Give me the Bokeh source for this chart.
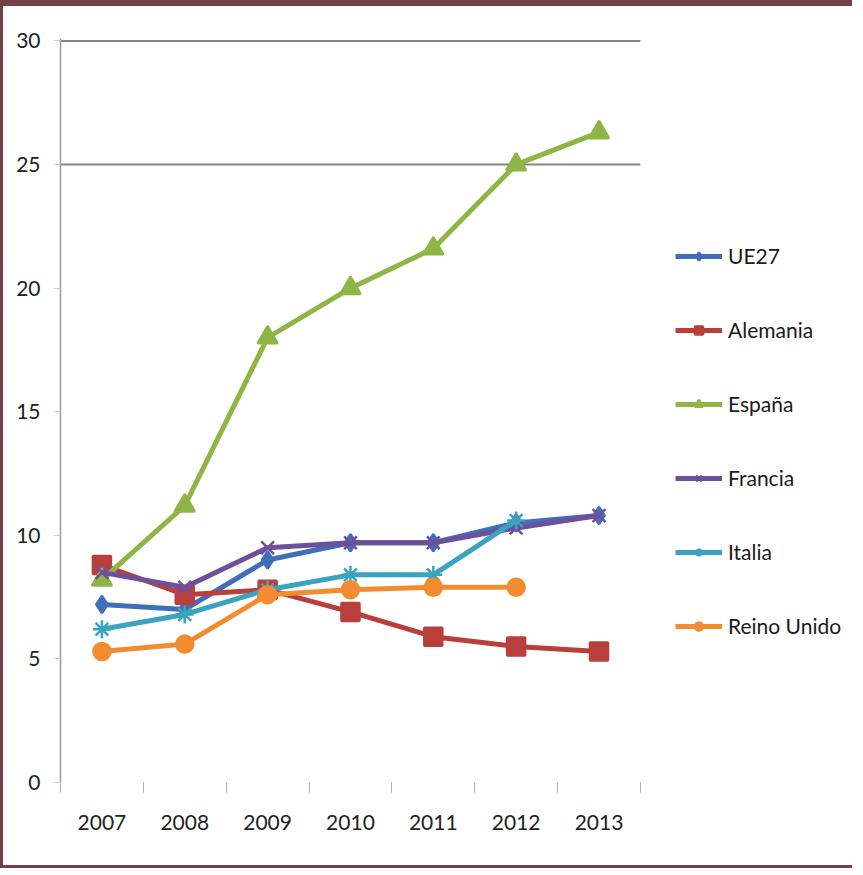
import math
from bokeh.plotting import figure
from bokeh.models import Legend, LegendItem, FixedTicker
from bokeh.embed import file_html
from bokeh.resources import INLINE

nan = float("nan")

years = [2007, 2008, 2009, 2010, 2011, 2012, 2013]
ue27 = [7.2, 7.0, 9.0, 9.7, 9.7, 10.5, 10.8]
alemania = [8.8, 7.6, 7.8, 6.9, 5.9, 5.5, 5.3]
espana = [8.2, 11.2, 18.0, 20.0, 21.6, 25.0, 26.3]
francia = [8.5, 7.9, 9.5, 9.7, 9.7, 10.3, 10.8]
italia = [6.2, 6.8, 7.8, 8.4, 8.4, 10.6, nan]
reino_unido = [5.3, 5.6, 7.6, 7.8, 7.9, 7.9, nan]

series_names = ["UE27", "Alemania", "España", "Francia", "Italia", "Reino Unido"]
series_values = [ue27, alemania, espana, francia, italia, reino_unido]
y_ticks = [0, 5, 10, 15, 20, 25, 30]
grid_levels = [25, 30]

colors = ["#3f6fb8", "#b93f3c", "#8fb545", "#6d4f9c", "#3aa3c0", "#f28c30"]
markers = ["diamond", "square", "triangle", "x", "asterisk", "circle"]
sizes = [17, 18, 20, 18, 18, 17]

FONT = "Lato"

x_start = years[0] - 0.5
x_end_plot = years[-1] + 0.5

p = figure(frame_width=792, frame_height=744, x_range=(x_start, 2016.06), y_range=(0, 30.1),
           output_backend="svg", toolbar_location=None,
           min_border_left=57, min_border_top=32, min_border_bottom=83,
           min_border_right=0)
p.outline_line_color = None
p.styles = {"border-left": "3px solid #74404a",
            "border-top": "6px solid #74404a",
            "border-bottom": "3px solid #74404a"}

# horizontal gridlines (only the two visible ones), limited to the plot part
p.segment(x0=[x_start] * len(grid_levels), x1=[x_end_plot] * len(grid_levels),
          y0=grid_levels, y1=grid_levels, line_color="#858585", line_width=2)
p.xgrid.grid_line_color = None
p.ygrid.grid_line_color = None

# y axis
p.yaxis.ticker = FixedTicker(ticks=y_ticks)
p.yaxis.major_tick_out = 6
p.yaxis.major_tick_in = 0
p.yaxis.minor_tick_out = 0
p.yaxis.minor_tick_in = 0
p.yaxis.major_tick_line_color = "#c8c8c8"
p.yaxis.axis_line_color = "#9a9a9a"
p.yaxis.axis_line_width = 1.5
p.yaxis.major_label_text_font = FONT
p.yaxis.major_label_text_font_size = "21px"
p.yaxis.major_label_text_color = "#222222"
p.yaxis.major_label_standoff = 14

# x axis
p.xaxis.ticker = FixedTicker(ticks=years,
                             minor_ticks=[y - 0.5 for y in years] + [years[-1] + 0.5])
p.xaxis.major_tick_out = 0
p.xaxis.major_tick_in = 0
p.xaxis.minor_tick_out = 10
p.xaxis.minor_tick_in = 0
p.xaxis.minor_tick_line_color = "#b0b0b0"
p.xaxis.axis_line_color = None
p.xaxis.major_label_text_font = FONT
p.xaxis.major_label_text_font_size = "21px"
p.xaxis.major_label_text_color = "#222222"
p.xaxis.major_label_standoff = 22

items = []
for name, vals, col, mk, sz in zip(series_names, series_values, colors, markers, sizes):
    lr = p.line(years, vals, line_color=col, line_width=5)
    sr = p.scatter(years, vals, marker=mk, size=sz, fill_color=col, line_color=col,
                   line_width=2.5)
    items.append(LegendItem(label=name, renderers=[lr, sr]))

legend = Legend(items=items, location=(615, 144), orientation="vertical",
                glyph_width=47, glyph_height=20, label_height=20, spacing=49,
                label_standoff=6, padding=0, margin=0,
                border_line_color=None, background_fill_alpha=0,
                label_text_font=FONT, label_text_font_size="21px",
                label_text_color="#1a1a1a")
p.add_layout(legend, "center")

open("out.html", "w").write(file_html(p, INLINE))
